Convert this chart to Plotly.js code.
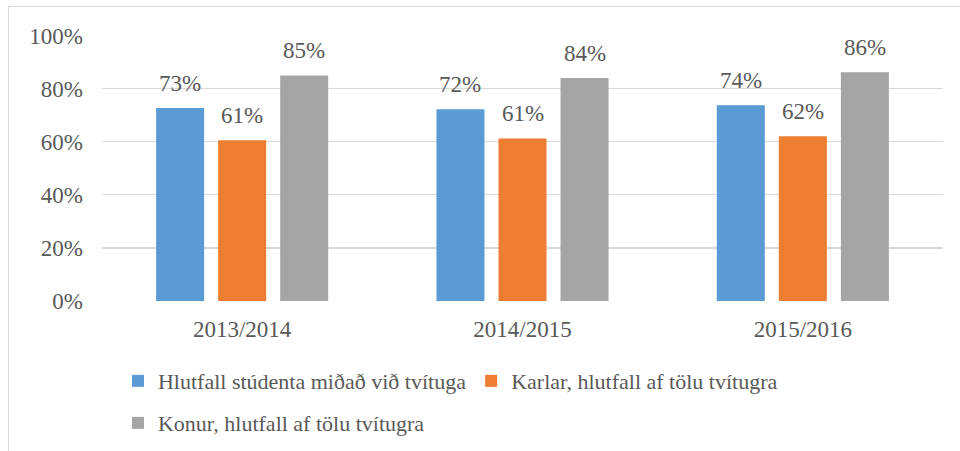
<!DOCTYPE html>
<html>
<head>
<meta charset="utf-8">
<script src="https://cdn.plot.ly/plotly-3.0.1.min.js"></script>
<style>
body{margin:0;}
#frame{position:absolute;left:8px;top:6px;width:1000px;height:500px;border:1px solid #d9d9d9;box-sizing:border-box;}
#chart{position:absolute;left:0;top:0;width:960px;height:451px;}
</style>
</head>
<body>
<div id="frame"></div>
<div id="chart"></div>
<script>
const categories = ['2013/2014', '2014/2015', '2015/2016'];
const seriesNames = [
  'Hlutfall stúdenta miðað við tvítuga',
  'Karlar, hlutfall af tölu tvítugra',
  'Konur, hlutfall af tölu tvítugra'
];
const studentar = [0.727, 0.722, 0.737];
const karlar = [0.606, 0.612, 0.621];
const konur = [0.849, 0.840, 0.862];
const colors = ['#5B9BD5', '#ED7D31', '#A5A5A5'];
const yTickVals = [0, 0.2, 0.4, 0.6, 0.8, 1.0];
const yTickText = ['0%', '20%', '40%', '60%', '80%', '100%'];

const W = 960, H = 451;
const MARG = {l: 102, r: 17, t: 35, b: 150, autoexpand: false};
const BARGAP = 0.336, BARGROUPGAP = 0.226;

const series = [studentar, karlar, konur];
const traces = series.map((vals, i) => ({
  type: 'bar',
  name: seriesNames[i],
  x: categories,
  y: vals,
  marker: {color: colors[i]},
  legend: i < 2 ? 'legend' : 'legend2',
  hoverinfo: 'skip'
}));

const plotW = W - MARG.l - MARG.r;
const slotPx = (plotW / categories.length) * (1 - BARGAP) / series.length;
const annotations = [];
series.forEach((vals, i) => {
  vals.forEach((v, j) => {
    annotations.push({
      x: categories[j], y: v, xref: 'x', yref: 'y',
      text: Math.round(v * 100) + '%',
      showarrow: false,
      xshift: (i - (series.length - 1) / 2) * slotPx,
      yanchor: 'middle', yshift: 25,
      font: {family: 'Times New Roman', size: 23, color: '#595959'}
    });
  });
});

const layout = {
  width: W, height: H,
  margin: MARG,
  paper_bgcolor: 'rgba(0,0,0,0)',
  plot_bgcolor: 'rgba(0,0,0,0)',
  font: {family: 'Times New Roman', size: 23, color: '#595959'},
  barmode: 'group',
  bargap: BARGAP,
  bargroupgap: BARGROUPGAP,
  showlegend: true,
  xaxis: {
    type: 'category',
    showgrid: false, zeroline: false, showline: false,
    ticks: '', ticklabelstandoff: 12
  },
  yaxis: {
    range: [0, 1.002],
    tickvals: yTickVals, ticktext: yTickText,
    showgrid: true, gridcolor: '#d9d9d9', gridwidth: 1.3,
    zeroline: false, showline: false,
    ticks: '', ticklabelstandoff: 18,
    fixedrange: true
  },
  legend: {
    orientation: 'h', x: 0.019, xanchor: 'left', y: -0.301, yanchor: 'middle',
    font: {size: 22},
    bgcolor: 'rgba(0,0,0,0)', traceorder: 'normal'
  },
  legend2: {
    orientation: 'h', x: 0.019, xanchor: 'left', y: -0.459, yanchor: 'middle',
    font: {size: 22},
    bgcolor: 'rgba(0,0,0,0)'
  },
  annotations: annotations
};

Plotly.newPlot('chart', traces, layout, {displayModeBar: false, staticPlot: true});
</script>
</body>
</html>
